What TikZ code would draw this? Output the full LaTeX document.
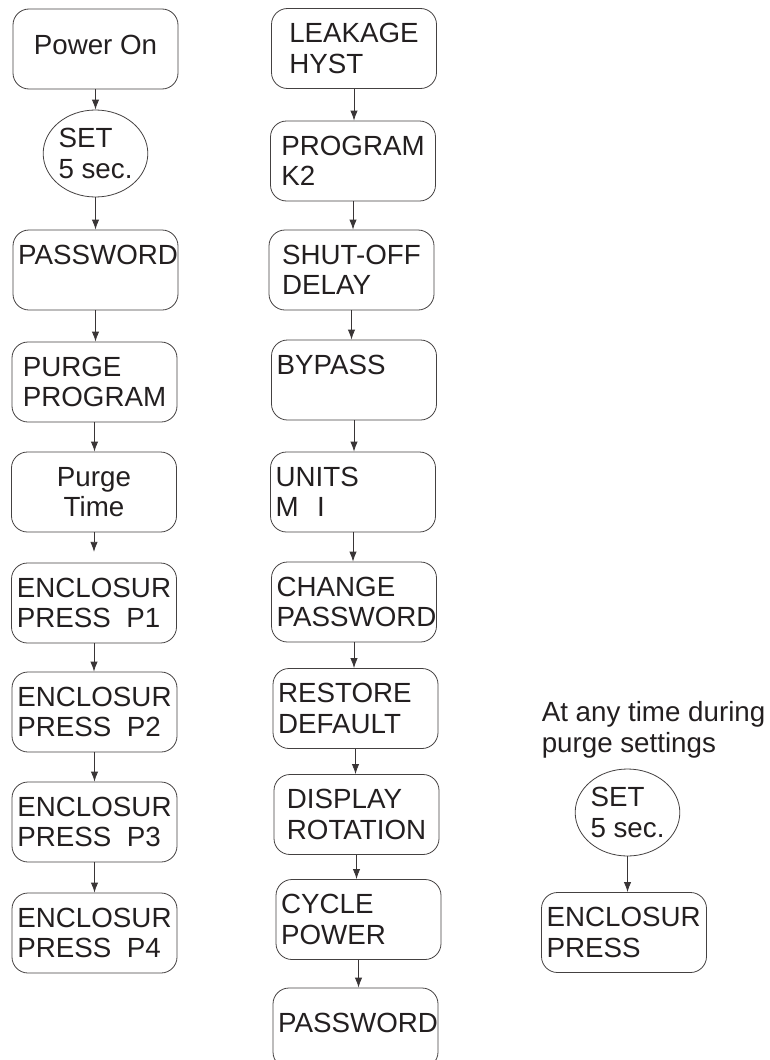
\documentclass[tikz,border=0pt]{standalone}
\usepackage{fontspec}
\setmainfont{Liberation Sans}
\usetikzlibrary{shapes.geometric,arrows.meta}
\definecolor{ink}{HTML}{231F20}
\begin{document}
\begin{tikzpicture}[x=0.75pt,y=-0.75pt,
		stepbox/.style={draw=ink!85, line width=0.6pt, rounded corners=12pt, minimum width=123.75pt, minimum height=60pt, inner sep=0pt, align=left, text=ink, font=\fontsize{20.8}{22.6}\selectfont},
		flush/.style={text width=116pt},
		setkey/.style={draw=ink!85, line width=0.6pt, ellipse, minimum width=71.25pt, minimum height=65.25pt, inner sep=0pt, align=left, text=ink, font=\fontsize{20.8}{22.6}\selectfont},
		flow/.style={draw=ink!90, line width=0.6pt, -{Latex[length=7.5pt,width=5.5pt]}}]
		\useasboundingbox (0,0) rectangle (769,1060);
		\node[stepbox, text depth=5.9pt] (pwr) at (95.5,49) {Power On};
		\node[setkey] (set1) at (95.5,153.5) {SET\\5 sec.};
		\node[stepbox, flush] (pw1) at (95.5,270) {PASSWORD\\~};
		\node[stepbox] (pp) at (94.5,382) {PURGE\\PROGRAM};
		\node[stepbox, align=center] (pt) at (94,492) {Purge\\Time};
		\node[stepbox] (p1) at (94,603) {ENCLOSUR\\PRESS\ \ P1};
		\node[stepbox] (p2) at (94.5,712) {ENCLOSUR\\PRESS\ \ P2};
		\node[stepbox] (p3) at (94.5,822) {ENCLOSUR\\PRESS\ \ P3};
		\node[stepbox] (p4) at (94.5,933) {ENCLOSUR\\PRESS\ \ P4};
		\draw[flow] (pwr) -- (pwr |- set1.north);
		\draw[flow] (set1) -- (set1 |- pw1.north);
		\draw[flow] (pw1) -- (pw1 |- pp.north);
		\draw[flow] (pp) -- (pp |- pt.north);
		\draw[flow, shorten >=8pt] (pt) -- (pt |- p1.north);
		\draw[flow] (p1) -- (p1 |- p2.north);
		\draw[flow] (p2) -- (p2 |- p3.north);
		\draw[flow] (p3) -- (p3 |- p4.north);
		\node[stepbox] (lh) at (354,48.5) {LEAKAGE\\HYST};
		\node[stepbox] (k2) at (353,161) {PROGRAM\\K2};
		\node[stepbox] (so) at (351.5,270) {SHUT-OFF\\DELAY};
		\node[stepbox, flush] (bp) at (354,380) {BYPASS\\~};
		\node[stepbox, flush] (un) at (353,492) {UNITS\\M\ \ I};
		\node[stepbox, flush] (cp) at (354,602) {CHANGE\\PASSWORD};
		\node[stepbox, flush] (rd) at (355.5,708.5) {RESTORE\\DEFAULT};
		\node[stepbox] (dr) at (356.5,814.5) {DISPLAY\\ROTATION};
		\node[stepbox, flush] (cy) at (358.5,919.5) {CYCLE\\POWER};
		\node[stepbox, flush, text depth=7.5pt] (pw2) at (355.5,1028) {PASSWORD};
		\draw[flow] (lh) -- (lh |- k2.north);
		\draw[flow] (k2) -- (k2 |- so.north);
		\draw[flow] (so) -- (so |- bp.north);
		\draw[flow] (bp) -- (bp |- un.north);
		\draw[flow] (un) -- (un |- cp.north);
		\draw[flow] (cp) -- (cp |- rd.north);
		\draw[flow] (rd) -- (rd |- dr.north);
		\draw[flow] (dr) -- (dr |- cy.north);
		\draw[flow] (cy) -- (cy |- pw2.north);
		\node[anchor=north west, inner sep=0pt, align=left, text=ink, font=\fontsize{20.8}{22.6}\selectfont] (note) at (541.5,701.5) {At any time during\\purge settings};
		\node[setkey] (set2) at (627.5,812.5) {SET\\5 sec.};
		\node[stepbox, flush] (ep) at (624,932.5) {ENCLOSUR\\PRESS};
		\draw[flow] (set2) -- (set2 |- ep.north);
\end{tikzpicture}
\end{document}
